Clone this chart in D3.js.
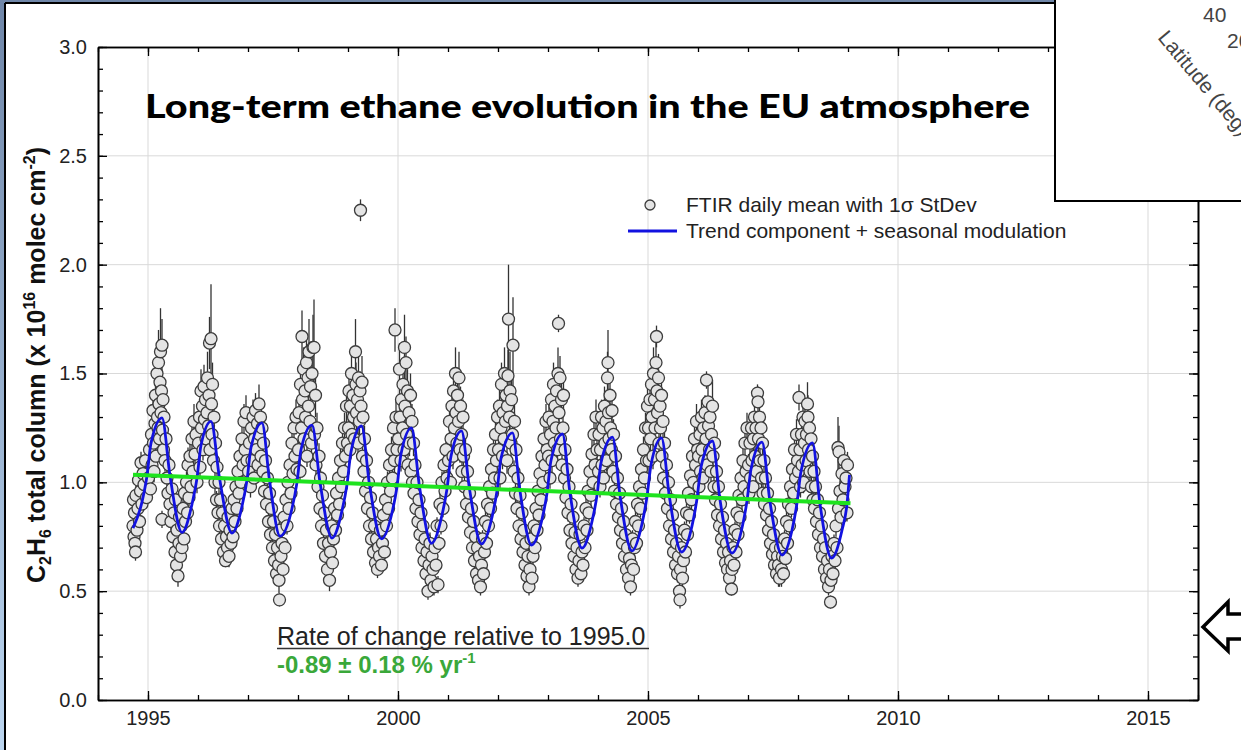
<!DOCTYPE html>
<html>
<head>
<meta charset="utf-8">
<script src="https://cdn.jsdelivr.net/npm/d3@7"></script>
<style>
  body { margin: 0; background: #fff; }
  svg text { font-family: Arial, "Liberation Sans", sans-serif; }
</style>
</head>
<body>
<script>
// ---------------  DATA  ---------------
// FTIR daily means: [fraction of year, total column (1e16 molec/cm2), 1 sigma]
const obs1994 = [[.70,.80,.03],[.71,.92,.04],[.72,.75,.03],[.73,.86,.05],[.74,.72,.03],[.75,.68,.04],[.76,.94,.05],[.78,.78,.03],[.80,.88,.04],[.81,1.01,.05],[.83,.82,.03],[.85,.96,.04],[.86,1.09,.05],[.88,.90,.04],[.90,1.04,.05],[.92,.99,.04],[.95,1.10,.06],[.97,.93,.04]];
const obs1995 = [[.01,1.02,.05],[.03,1.15,.06],[.05,.97,.04],[.07,1.22,.07],[.08,1.08,.05],[.10,1.33,.08],[.11,1.18,.06],[.12,1.05,.05],[.14,1.27,.07],[.15,1.40,.1],[.16,1.12,.05],[.18,1.50,.12],[.19,1.30,.08],[.20,1.25,.07],[.21,1.55,.15],[.22,1.36,.09],[.23,1.20,.06],[.24,1.46,.1],[.25,1.60,.2],[.26,1.32,.08],[.27,1.42,.1],[.28,1.63,.12],[.28,.83,.04],[.29,1.24,.06],[.30,1.38,.09],[.31,1.15,.05],[.32,1.30,.07],[.34,1.10,.05],[.36,1.20,.06],[.38,1.02,.05],[.40,.95,.04],[.42,1.08,.06],[.44,.90,.04],[.46,.82,.04],[.48,.97,.05],[.50,.75,.03],[.52,.86,.04],[.54,.68,.04],[.55,.92,.05],[.57,.62,.03],[.58,.78,.04],[.60,.57,.05],[.62,.72,.03],[.63,.84,.04],[.65,.66,.03],[.67,.80,.04],[.68,.70,.05],[.70,.88,.05],[.72,.74,.04],[.73,.95,.05],[.75,.82,.04],[.77,1.0,.05],[.79,.86,.04],[.80,1.08,.08],[.82,.93,.04],[.84,1.12,.06],[.86,.98,.05],[.88,1.20,.07],[.90,1.05,.05],[.92,1.28,.08],[.94,1.13,.06],[.96,1.22,.07],[.98,1.00,.05]];
const obs1996 = [[.01,1.18,.06],[.03,1.30,.08],[.04,1.07,.05],[.06,1.42,.1],[.07,1.25,.07],[.09,1.35,.09],[.10,1.15,.05],[.12,1.44,.1],[.13,1.29,.07],[.15,1.38,.08],[.16,1.20,.06],[.18,1.32,.08],[.19,1.48,.12],[.21,1.26,.07],[.22,1.40,.09],[.23,1.64,.12],[.24,1.15,.05],[.26,1.66,.25],[.27,1.36,.08],[.28,1.22,.06],[.29,1.45,.1],[.31,1.10,.05],[.32,1.30,.07],[.34,1.00,.05],[.35,1.18,.06],[.37,.92,.04],[.38,1.07,.05],[.40,.86,.04],[.42,1.0,.05],[.43,.80,.04],[.45,.92,.04],[.47,.74,.03],[.49,.86,.04],[.51,.68,.03],[.53,.80,.04],[.55,.64,.03],[.57,.75,.04],[.59,.70,.03],[.60,.84,.04],[.62,.66,.05],[.64,.78,.04],[.66,.72,.03],[.68,.88,.04],[.70,.75,.03],[.72,.92,.05],[.74,.82,.04],[.76,.98,.05],[.78,.88,.04],[.80,1.05,.06],[.82,.95,.05],[.84,1.12,.06],[.86,1.0,.05],[.88,1.20,.07],[.90,1.08,.05],[.92,1.28,.08],[.94,1.15,.06],[.96,1.32,.08],[.98,1.10,.05]];
const obs1997 = [[.01,1.05,.05],[.03,1.18,.06],[.05,.98,.05],[.07,1.25,.07],[.08,1.10,.05],[.10,1.30,.08],[.12,1.02,.05],[.13,1.20,.06],[.15,1.33,.08],[.17,1.15,.06],[.19,1.27,.07],[.20,1.08,.05],[.22,1.36,.09],[.23,1.22,.06],[.25,1.30,.08],[.26,1.12,.05],[.28,1.25,.07],[.30,1.05,.05],[.31,1.18,.06],[.33,.96,.05],[.35,1.10,.05],[.37,.90,.04],[.39,1.02,.05],[.41,.82,.04],[.43,.95,.05],[.45,.76,.04],[.47,.88,.04],[.49,.70,.05],[.51,.82,.04],[.53,.64,.05],[.55,.76,.04],[.57,.58,.05],[.59,.70,.04],[.61,.62,.08],[.62,.55,.06],[.63,.46,.03],[.64,.78,.04],[.66,.66,.05],[.68,.72,.04],[.70,.60,.04],[.72,.84,.04],[.74,.70,.04],[.76,.92,.05],[.78,.80,.04],[.80,1.0,.05],[.82,.88,.04],[.84,1.08,.05],[.86,.95,.05],[.88,1.18,.07],[.90,1.04,.05],[.92,1.25,.07],[.94,1.12,.06],[.96,1.30,.08],[.98,1.06,.05]];
const obs1998 = [[.01,1.15,.06],[.02,1.32,.08],[.04,1.05,.05],[.05,1.45,.1],[.07,1.25,.07],[.08,1.67,.12],[.09,1.38,.08],[.11,1.52,.1],[.12,1.20,.06],[.14,1.42,.09],[.15,1.30,.07],[.17,1.55,.12],[.18,1.12,.05],[.20,1.48,.1],[.21,1.35,.08],[.22,1.60,.15],[.24,1.28,.07],[.25,1.44,.09],[.27,1.18,.06],[.28,1.50,.12],[.30,1.62,.15],[.32,1.62,.22],[.33,1.22,.06],[.35,1.40,.1],[.36,1.08,.05],[.38,1.25,.07],[.40,.98,.05],[.42,1.12,.06],[.44,.88,.04],[.45,1.02,.05],[.47,.80,.04],[.49,.94,.05],[.51,.72,.04],[.53,.86,.04],[.55,.66,.03],[.57,.78,.04],[.59,.60,.04],[.61,.72,.03],[.63,.55,.05],[.65,.68,.04],[.67,.80,.04],[.69,.63,.04],[.71,.74,.04],[.73,.88,.05],[.75,.78,.04],[.77,.95,.05],[.79,.85,.04],[.81,1.02,.05],[.83,.90,.04],[.85,1.10,.06],[.87,.98,.05],[.89,1.18,.07],[.91,1.05,.05],[.93,1.25,.07],[.95,1.12,.06],[.97,1.35,.09],[.99,1.18,.06]];
const obs1999 = [[.01,1.25,.08],[.02,1.42,.1],[.04,1.15,.06],[.05,1.35,.09],[.07,1.50,.12],[.08,1.22,.07],[.10,1.40,.1],[.11,1.30,.08],[.13,1.20,.06],[.15,1.60,.15],[.16,1.45,.1],[.17,1.32,.08],[.19,1.38,.09],[.20,1.18,.06],[.21,1.48,.11],[.23,1.28,.07],[.24,1.42,.09],[.25,2.25,.05],[.26,1.35,.08],[.28,1.46,.12],[.29,1.12,.05],[.30,1.30,.08],[.32,1.05,.05],[.33,1.20,.06],[.35,.96,.05],[.37,1.10,.05],[.39,.88,.04],[.41,1.00,.05],[.43,.80,.04],[.45,.93,.05],[.47,.74,.04],[.49,.86,.04],[.51,.68,.04],[.53,.80,.04],[.55,.63,.04],[.57,.74,.04],[.59,.60,.04],[.61,.70,.04],[.63,.66,.04],[.65,.78,.04],[.67,.62,.04],[.69,.72,.04],[.71,.85,.05],[.73,.68,.04],[.75,.92,.05],[.77,.80,.04],[.79,1.0,.05],[.81,.88,.04],[.83,1.08,.06],[.85,.96,.05],[.87,1.15,.06],[.89,1.02,.05],[.91,1.25,.07],[.93,1.10,.06],[.94,1.70,.1],[.96,1.30,.08],[.98,1.15,.06]];
const obs2000 = [[.01,1.20,.07],[.03,1.52,.12],[.04,1.30,.08],[.06,1.10,.05],[.07,1.38,.09],[.09,1.25,.07],[.10,1.45,.1],[.12,1.15,.06],[.13,1.62,.15],[.14,1.35,.09],[.16,1.55,.12],[.17,1.22,.07],[.19,1.42,.1],[.20,1.08,.05],[.22,1.32,.08],[.23,1.18,.06],[.25,1.40,.1],[.26,1.05,.05],[.28,1.28,.08],[.29,1.00,.05],[.31,1.18,.06],[.32,.95,.05],[.34,1.08,.05],[.36,.88,.04],[.38,1.00,.05],[.40,.82,.04],[.42,.92,.04],[.44,.76,.04],[.46,.86,.04],[.48,.70,.04],[.50,.80,.04],[.52,.64,.04],[.54,.74,.04],[.56,.58,.04],[.58,.68,.04],[.60,.50,.04],[.62,.62,.04],[.64,.72,.05],[.66,.55,.05],[.68,.66,.04],[.70,.60,.04],[.72,.52,.04],[.74,.70,.04],[.76,.62,.04],[.78,.80,.04],[.80,.53,.04],[.82,.72,.04],[.84,.90,.05],[.86,.80,.04],[.88,1.00,.05],[.90,.88,.04],[.92,1.08,.06],[.94,.96,.05],[.96,1.15,.06],[.98,1.02,.05]];
const obs2001 = [[.01,1.10,.06],[.03,1.28,.08],[.05,1.00,.05],[.06,1.20,.07],[.08,1.35,.09],[.10,1.12,.06],[.11,1.42,.1],[.13,1.25,.07],[.15,1.50,.12],[.16,1.32,.08],[.18,1.18,.06],[.19,1.40,.1],[.21,1.28,.07],[.22,1.48,.12],[.24,1.15,.06],[.25,1.35,.09],[.27,1.22,.07],[.28,1.05,.05],[.30,1.30,.08],[.31,1.12,.06],[.33,.98,.05],[.35,1.15,.06],[.37,.90,.04],[.39,1.05,.05],[.41,.84,.04],[.43,.95,.05],[.45,.77,.04],[.47,.88,.04],[.49,.70,.04],[.51,.82,.04],[.53,.64,.04],[.55,.75,.04],[.57,.58,.04],[.59,.70,.04],[.61,.55,.04],[.63,.66,.04],[.65,.52,.04],[.67,.62,.04],[.69,.74,.04],[.71,.58,.04],[.73,.68,.04],[.75,.82,.05],[.77,.72,.04],[.79,.90,.05],[.81,.80,.04],[.83,.98,.05],[.85,.88,.04],[.87,1.06,.05],[.89,.95,.05],[.91,1.15,.06],[.93,1.02,.05],[.95,1.22,.07],[.97,1.10,.06],[.99,1.30,.08]];
const obs2002 = [[.01,1.15,.06],[.03,1.35,.09],[.04,1.02,.05],[.06,1.25,.07],[.07,1.45,.1],[.09,1.12,.06],[.10,1.32,.08],[.12,1.20,.07],[.13,1.50,.12],[.15,1.28,.08],[.16,1.40,.1],[.18,1.10,.06],[.19,1.35,.09],[.20,1.49,.12],[.21,1.75,.25],[.23,1.30,.08],[.24,1.42,.18],[.26,1.18,.06],[.27,1.38,.09],[.29,1.22,.07],[.30,1.63,.22],[.32,1.05,.05],[.33,1.28,.08],[.35,.95,.05],[.36,1.15,.06],[.38,.88,.04],[.40,1.02,.05],[.42,.80,.04],[.44,.94,.05],[.46,.74,.04],[.48,.86,.04],[.50,.68,.04],[.52,.78,.04],[.54,.62,.04],[.56,.72,.04],[.58,.57,.04],[.60,.66,.04],[.62,.52,.04],[.64,.60,.04],[.66,.74,.04],[.68,.56,.04],[.70,.66,.04],[.72,.80,.05],[.74,.70,.04],[.76,.88,.05],[.78,.78,.04],[.80,.96,.05],[.82,.85,.04],[.84,1.04,.05],[.86,.92,.05],[.88,1.12,.06],[.90,1.0,.05],[.92,1.20,.07],[.94,1.08,.06],[.96,1.28,.08],[.98,1.15,.06]];
const obs2003 = [[.01,1.12,.06],[.02,1.30,.08],[.04,1.02,.05],[.05,1.22,.07],[.07,1.38,.09],[.08,1.10,.06],[.10,1.28,.08],[.11,1.45,.1],[.13,1.18,.06],[.14,1.35,.09],[.16,1.25,.07],[.17,1.42,.1],[.19,1.15,.06],[.20,1.50,.12],[.21,1.73,.04],[.22,1.32,.08],[.24,1.48,.1],[.25,1.20,.07],[.27,1.38,.09],[.28,1.08,.05],[.30,1.25,.07],[.31,1.40,.1],[.33,1.02,.05],[.34,1.15,.06],[.36,.93,.04],[.38,1.06,.05],[.40,.86,.04],[.42,.98,.05],[.44,.78,.04],[.46,.90,.04],[.48,.72,.04],[.50,.84,.04],[.52,.66,.04],[.54,.77,.04],[.56,.60,.04],[.58,.70,.04],[.60,.56,.04],[.62,.64,.04],[.64,.76,.04],[.66,.58,.04],[.68,.68,.04],[.70,.62,.04],[.72,.80,.04],[.74,.70,.04],[.76,.88,.05],[.78,.78,.04],[.80,.96,.05],[.82,.86,.04],[.84,1.05,.05],[.86,.94,.05],[.88,1.13,.06],[.90,1.0,.05],[.92,1.22,.07],[.94,1.08,.06],[.96,1.30,.08],[.98,1.15,.06]];
const obs2004 = [[.01,1.05,.05],[.02,1.22,.07],[.04,.98,.05],[.05,1.15,.06],[.07,1.30,.08],[.08,1.08,.05],[.10,1.25,.07],[.11,1.02,.05],[.13,1.35,.09],[.14,1.18,.06],[.16,1.28,.08],[.17,1.10,.05],[.19,1.48,.12],[.20,1.55,.15],[.21,1.32,.08],[.22,1.20,.06],[.24,1.40,.1],[.25,1.25,.07],[.27,1.15,.06],[.28,1.33,.08],[.30,1.05,.05],[.31,1.22,.07],[.33,.96,.05],[.35,1.12,.06],[.37,.90,.04],[.39,1.02,.05],[.41,.84,.04],[.43,.95,.05],[.45,.78,.04],[.47,.88,.04],[.49,.72,.04],[.51,.82,.04],[.53,.66,.04],[.55,.76,.04],[.57,.60,.04],[.59,.70,.04],[.61,.56,.04],[.63,.65,.04],[.65,.52,.04],[.67,.62,.04],[.69,.74,.04],[.71,.60,.04],[.73,.70,.04],[.75,.82,.05],[.77,.72,.04],[.79,.90,.05],[.81,.80,.04],[.83,.98,.05],[.85,.88,.04],[.87,1.06,.05],[.89,.95,.05],[.91,1.15,.06],[.93,1.02,.05],[.95,1.25,.07],[.97,1.10,.06],[.99,1.35,.09]];
const obs2005 = [[.01,1.25,.08],[.02,1.10,.06],[.04,1.38,.09],[.05,1.20,.07],[.07,1.45,.1],[.08,1.30,.08],[.10,1.12,.06],[.11,1.50,.12],[.13,1.38,.09],[.14,1.25,.07],[.16,1.55,.1],[.17,1.67,.05],[.18,1.42,.1],[.19,1.32,.08],[.21,1.48,.11],[.22,1.18,.06],[.24,1.35,.09],[.25,1.25,.07],[.27,1.40,.1],[.28,1.12,.06],[.30,1.28,.08],[.31,1.02,.05],[.33,1.18,.06],[.35,.95,.05],[.37,1.08,.05],[.39,.88,.04],[.41,1.00,.05],[.43,.80,.04],[.45,.92,.05],[.47,.74,.04],[.49,.85,.04],[.51,.68,.04],[.53,.78,.04],[.55,.62,.04],[.57,.72,.04],[.59,.58,.04],[.61,.66,.04],[.63,.50,.04],[.64,.46,.04],[.65,.60,.04],[.67,.70,.04],[.69,.56,.04],[.71,.64,.04],[.73,.78,.04],[.75,.68,.04],[.77,.86,.05],[.79,.76,.04],[.81,.95,.05],[.83,.85,.04],[.85,1.03,.05],[.87,.92,.05],[.89,1.12,.06],[.91,1.0,.05],[.93,1.20,.07],[.95,1.08,.06],[.97,1.28,.08],[.99,1.15,.06]];
const obs2006 = [[.01,1.12,.06],[.02,.98,.05],[.04,1.22,.07],[.05,1.05,.05],[.07,1.30,.08],[.08,1.15,.06],[.10,1.02,.05],[.11,1.25,.07],[.13,1.10,.06],[.14,1.32,.08],[.16,1.20,.07],[.17,1.47,.04],[.18,1.08,.05],[.20,1.37,.09],[.21,1.26,.07],[.23,1.15,.06],[.24,1.30,.08],[.26,1.05,.05],[.27,1.22,.07],[.29,1.35,.12],[.30,1.12,.06],[.32,.98,.05],[.33,1.18,.06],[.35,.92,.04],[.37,1.05,.05],[.39,.85,.04],[.41,.98,.05],[.43,.80,.04],[.45,.90,.04],[.47,.74,.04],[.49,.84,.04],[.51,.68,.04],[.53,.78,.04],[.55,.63,.04],[.57,.72,.04],[.59,.60,.04],[.61,.68,.04],[.63,.56,.04],[.65,.64,.04],[.67,.51,.03],[.68,.60,.04],[.70,.70,.04],[.72,.62,.04],[.74,.78,.04],[.76,.68,.04],[.78,.86,.05],[.80,.76,.04],[.82,.94,.05],[.84,.84,.04],[.86,1.02,.05],[.88,.92,.05],[.90,1.10,.06],[.92,.98,.05],[.94,1.18,.07],[.96,1.05,.05],[.98,1.25,.07]];
const obs2007 = [[.01,1.08,.05],[.02,.95,.05],[.04,1.18,.07],[.05,1.02,.05],[.07,1.25,.07],[.08,1.10,.06],[.10,.98,.05],[.11,1.20,.07],[.13,1.30,.08],[.14,1.12,.06],[.16,1.25,.07],[.17,1.05,.05],[.19,1.41,.04],[.20,1.37,.07],[.21,1.20,.07],[.23,1.30,.08],[.24,1.10,.06],[.26,1.25,.07],[.27,1.02,.05],[.29,1.18,.06],[.30,.95,.05],[.32,1.10,.06],[.33,.90,.04],[.35,1.02,.05],[.37,.85,.04],[.39,.95,.05],[.41,.78,.04],[.43,.88,.04],[.45,.72,.04],[.47,.82,.04],[.49,.67,.04],[.51,.76,.04],[.53,.62,.04],[.55,.70,.04],[.57,.58,.04],[.59,.66,.04],[.61,.62,.1],[.63,.56,.04],[.65,.70,.04],[.67,.60,.08],[.69,.66,.04],[.71,.58,.04],[.73,.74,.04],[.75,.65,.04],[.77,.82,.05],[.79,.72,.04],[.81,.90,.05],[.83,.80,.04],[.85,.98,.05],[.87,.88,.04],[.89,1.06,.05],[.91,.95,.05],[.93,1.15,.06],[.95,1.02,.05],[.97,1.22,.07],[.99,1.10,.06]];
const obs2008 = [[.01,1.05,.05],[.02,1.39,.06],[.04,1.15,.06],[.05,.98,.05],[.07,1.22,.07],[.08,1.08,.05],[.10,1.30,.08],[.11,1.00,.05],[.13,1.18,.06],[.14,1.28,.08],[.16,1.10,.06],[.17,1.22,.07],[.19,1.36,.1],[.20,1.30,.1],[.21,1.15,.06],[.23,1.25,.07],[.24,1.05,.05],[.26,1.20,.07],[.27,.98,.05],[.29,1.12,.06],[.30,.92,.04],[.32,1.05,.05],[.33,.88,.04],[.35,.98,.05],[.37,.82,.04],[.39,.92,.04],[.41,.76,.04],[.43,.86,.04],[.45,.70,.04],[.47,.80,.04],[.49,.66,.04],[.51,.74,.04],[.53,.60,.04],[.55,.70,.04],[.57,.56,.04],[.59,.64,.04],[.61,.52,.04],[.63,.60,.04],[.65,.45,.03],[.66,.55,.04],[.68,.66,.04],[.70,.58,.04],[.72,.72,.04],[.74,.64,.04],[.76,.80,.05],[.78,.70,.04],[.80,1.16,.14],[.81,.88,.04],[.82,1.14,.12],[.84,.96,.05],[.86,.84,.04],[.88,1.04,.05],[.90,.92,.04],[.92,1.10,.06],[.94,.98,.05],[.96,1.02,.05],[.98,.86,.04],[.99,1.08,.06]];
const obsYears = [1994, 1995, 1996, 1997, 1998, 1999, 2000, 2001, 2002, 2003, 2004, 2005, 2006, 2007, 2008];
const obsSets = [obs1994, obs1995, obs1996, obs1997, obs1998, obs1999, obs2000, obs2001, obs2002, obs2003, obs2004, obs2005, obs2006, obs2007, obs2008];

// trend component + seasonal modulation
const fitYear = [1994.70,1994.88,1994.98,1995.06,1995.28,1995.44,1995.68,1995.88,1995.98,1996.06,1996.26,1996.43,1996.68,1996.88,1996.98,1997.06,1997.28,1997.43,1997.64,1997.88,1997.98,1998.06,1998.28,1998.44,1998.68,1998.88,1998.98,1999.06,1999.27,1999.43,1999.67,1999.88,1999.98,2000.06,2000.27,2000.43,2000.67,2000.88,2000.98,2001.06,2001.27,2001.43,2001.67,2001.88,2001.98,2002.06,2002.29,2002.44,2002.67,2002.88,2002.98,2003.06,2003.29,2003.44,2003.68,2003.88,2003.98,2004.06,2004.29,2004.44,2004.68,2004.88,2004.98,2005.06,2005.27,2005.43,2005.67,2005.88,2005.98,2006.06,2006.29,2006.44,2006.68,2006.88,2006.98,2007.06,2007.28,2007.44,2007.68,2007.88,2007.98,2008.06,2008.29,2008.44,2008.67,2008.88,2008.98,2009.03];
const fitValue = [.79,.91,1.03,1.18,1.296,1.03,.77,.90,1.02,1.17,1.28,1.02,.767,.89,1.01,1.16,1.273,1.01,.753,.88,1.00,1.15,1.263,1.00,.744,.87,.99,1.14,1.259,.99,.74,.86,.98,1.13,1.25,.98,.72,.85,.97,1.12,1.236,.97,.717,.84,.96,1.11,1.227,.96,.712,.83,.95,1.10,1.222,.95,.698,.82,.94,1.09,1.208,.94,.685,.81,.935,1.08,1.204,.93,.68,.80,.925,1.07,1.19,.92,.675,.79,.915,1.06,1.185,.91,.666,.78,.905,1.05,1.181,.90,.652,.78,.90,1.034];

// linear trend (green)
const trendYear = [1994.70, 2009.05];
const trendValue = [1.035, 0.904];

const xTicksMajor = [1995, 2000, 2005, 2010, 2015];
const yTicksMajor = [0, 0.5, 1.0, 1.5, 2.0, 2.5, 3.0];

//  ---------------  INITIALIZATION  ---------------
const W = 1241, H = 750;
const plot = { left: 98, right: 1198, top: 47, bottom: 700 };

const svg = d3.select("body").append("svg")
  .attr("width", W).attr("height", H);

const defs = svg.append("defs");
const grad = defs.append("linearGradient").attr("id", "edge")
  .attr("x1", 0).attr("y1", 0).attr("x2", 0).attr("y2", 1);
grad.append("stop").attr("offset", "0%").attr("stop-color", "#6f86a8");
grad.append("stop").attr("offset", "100%").attr("stop-color", "#bcd6f0");

// slide frame
svg.append("rect").attr("width", W).attr("height", H).attr("fill", "url(#edge)");
svg.append("rect").attr("x", 6).attr("y", 4).attr("width", W).attr("height", H)
  .attr("fill", "#fff");
svg.append("line").attr("x1", 5).attr("x2", 5).attr("y1", 3).attr("y2", H)
  .attr("stroke", "#000").attr("stroke-width", 2);
svg.append("line").attr("x1", 5).attr("x2", W).attr("y1", 3).attr("y2", 3)
  .attr("stroke", "#000").attr("stroke-width", 2);

const x = d3.scaleLinear().domain([1994, 2016]).range([plot.left, plot.right]);
const y = d3.scaleLinear().domain([0, 3]).range([plot.bottom, plot.top]);

//  ---------------  GRID  ---------------
const grid = svg.append("g").attr("stroke", "#d9d9d9").attr("stroke-width", 1);
grid.selectAll(".gx").data(xTicksMajor).enter().append("line")
  .attr("x1", d => x(d)).attr("x2", d => x(d))
  .attr("y1", plot.top).attr("y2", plot.bottom);
grid.selectAll(".gy").data(yTicksMajor.filter(d => d > 0 && d < 3)).enter().append("line")
  .attr("x1", plot.left).attr("x2", plot.right)
  .attr("y1", d => y(d)).attr("y2", d => y(d));

//  ---------------  AXES  ---------------
const yearsAll = d3.range(1994, 2017);
const tenthsAll = d3.range(0, 31).map(d => d / 10);

function styleAxis(g) {
  g.select(".domain").attr("stroke", "#000").attr("stroke-width", 1.6);
  g.selectAll(".tick line").attr("stroke", "#000").attr("stroke-width", 1.3);
  g.selectAll("text").attr("fill", "#222").style("font-size", "20px")
    .style("font-family", "Arial, 'Liberation Sans', sans-serif");
}

svg.append("g").attr("transform", `translate(0,${plot.bottom})`)
  .call(d3.axisBottom(x).tickValues(yearsAll).tickSize(-5).tickFormat("").tickSizeOuter(0)).call(styleAxis);
svg.append("g").attr("transform", `translate(0,${plot.bottom})`)
  .call(d3.axisBottom(x).tickValues(xTicksMajor).tickSize(-9).tickPadding(11).tickFormat(d3.format("d")).tickSizeOuter(0)).call(styleAxis);
svg.append("g").attr("transform", `translate(0,${plot.top})`)
  .call(d3.axisTop(x).tickValues(yearsAll).tickSize(-5).tickFormat("").tickSizeOuter(0)).call(styleAxis);
svg.append("g").attr("transform", `translate(0,${plot.top})`)
  .call(d3.axisTop(x).tickValues(xTicksMajor).tickSize(-9).tickFormat("").tickSizeOuter(0)).call(styleAxis);

svg.append("g").attr("transform", `translate(${plot.left},0)`)
  .call(d3.axisLeft(y).tickValues(tenthsAll).tickSize(-5).tickFormat("").tickSizeOuter(0)).call(styleAxis);
svg.append("g").attr("transform", `translate(${plot.left},0)`)
  .call(d3.axisLeft(y).tickValues(yTicksMajor).tickSize(-9).tickPadding(11).tickFormat(d3.format(".1f")).tickSizeOuter(0)).call(styleAxis);
svg.append("g").attr("transform", `translate(${plot.right},0)`)
  .call(d3.axisRight(y).tickValues(tenthsAll).tickSize(-5).tickFormat("").tickSizeOuter(0)).call(styleAxis);
svg.append("g").attr("transform", `translate(${plot.right},0)`)
  .call(d3.axisRight(y).tickValues(yTicksMajor).tickSize(-9).tickFormat("").tickSizeOuter(0)).call(styleAxis);

//  ---------------  OBSERVATIONS  ---------------
const obs = [];
obsSets.forEach((set, i) => set.forEach(p => obs.push({ t: obsYears[i] + p[0], v: p[1], sd: p[2] })));

svg.append("g").selectAll("line").data(obs).enter().append("line")
  .attr("x1", d => x(d.t)).attr("x2", d => x(d.t))
  .attr("y1", d => y(d.v - d.sd)).attr("y2", d => y(d.v + d.sd))
  .attr("stroke", "#333").attr("stroke-width", 1.3);

svg.append("g").selectAll("circle").data(obs).enter().append("circle")
  .attr("cx", d => x(d.t)).attr("cy", d => y(d.v)).attr("r", 6)
  .attr("fill", "#e4e4e4").attr("stroke", "#3c3c3c").attr("stroke-width", 1.3);

//  ---------------  FIT AND TREND  ---------------
const fitLine = d3.line().x(d => x(d[0])).y(d => y(d[1])).curve(d3.curveMonotoneX);
svg.append("path").datum(fitYear.map((d, i) => [d, fitValue[i]]))
  .attr("d", fitLine).attr("fill", "none").attr("stroke", "#1212e0").attr("stroke-width", 2.8);

svg.append("path").datum(trendYear.map((d, i) => [d, trendValue[i]]))
  .attr("d", d3.line().x(d => x(d[0])).y(d => y(d[1])))
  .attr("fill", "none").attr("stroke", "#1ee31e").attr("stroke-width", 4);

//  ---------------  TEXTS  ---------------
svg.append("text").attr("x", 145).attr("y", 118)
  .attr("textLength", 885).attr("lengthAdjust", "spacingAndGlyphs")
  .style("font-family", "Lato, 'Open Sans', sans-serif").style("font-weight", "900")
  .style("font-size", "33px").attr("fill", "#000")
  .text("Long-term ethane evolution in the EU atmosphere");

const ylab = svg.append("text").attr("transform", "translate(45,365) rotate(-90)")
  .attr("text-anchor", "middle").style("font-weight", "bold").style("font-size", "25px").attr("fill", "#111");
ylab.append("tspan").text("C");
ylab.append("tspan").attr("dy", 6).style("font-size", "16px").text("2");
ylab.append("tspan").attr("dy", -6).text("H");
ylab.append("tspan").attr("dy", 6).style("font-size", "16px").text("6");
ylab.append("tspan").attr("dy", -6).text(" total column (x 10");
ylab.append("tspan").attr("dy", -10).style("font-size", "16px").text("16");
ylab.append("tspan").attr("dy", 10).text(" molec cm");
ylab.append("tspan").attr("dy", -10).style("font-size", "16px").text("-2");
ylab.append("tspan").attr("dy", 10).text(")");

// legend
svg.append("circle").attr("cx", 650).attr("cy", 205).attr("r", 5)
  .attr("fill", "#e4e4e4").attr("stroke", "#3c3c3c").attr("stroke-width", 1.3);
svg.append("line").attr("x1", 628).attr("x2", 677).attr("y1", 231).attr("y2", 231)
  .attr("stroke", "#1212e0").attr("stroke-width", 2.8);
const legendText = svg.append("g").style("font-size", "21px").attr("fill", "#222");
legendText.append("text").attr("x", 686).attr("y", 212).text("FTIR daily mean with 1\u03c3 StDev");
legendText.append("text").attr("x", 686).attr("y", 238).text("Trend component + seasonal modulation");

// rate of change
svg.append("text").attr("x", 277).attr("y", 645).style("font-size", "25px").attr("fill", "#222")
  .text("Rate of change relative to 1995.0");
svg.append("line").attr("x1", 277).attr("x2", 649).attr("y1", 648.5).attr("y2", 648.5)
  .attr("stroke", "#333").attr("stroke-width", 1.5);
const rate = svg.append("text").attr("x", 277).attr("y", 673)
  .style("font-size", "24px").style("font-weight", "bold").attr("fill", "#3aa83a");
rate.append("tspan").text("-0.89 \u00b1 0.18 % yr");
rate.append("tspan").attr("dy", -10).style("font-size", "15px").text("-1");

//  ---------------  INSET AND ARROW  ---------------
svg.append("rect").attr("x", 1055).attr("y", -5).attr("width", 200).attr("height", 206)
  .attr("fill", "#fff").attr("stroke", "#000").attr("stroke-width", 2);
const inset = svg.append("g").style("font-size", "21px").attr("fill", "#444");
inset.append("text").attr("x", 1203).attr("y", 22).text("40");
inset.append("text").attr("x", 1227).attr("y", 48).text("20");
inset.append("text").attr("transform", "translate(1157,38) rotate(50)").text("Latitude (deg)");

svg.append("path")
  .attr("d", "M1203,627 L1228,602 L1228,614 L1260,614 L1260,639 L1228,639 L1228,651 Z")
  .attr("fill", "#fff").attr("stroke", "#000").attr("stroke-width", 3.5).attr("stroke-linejoin", "miter");
</script>
</body>
</html>
